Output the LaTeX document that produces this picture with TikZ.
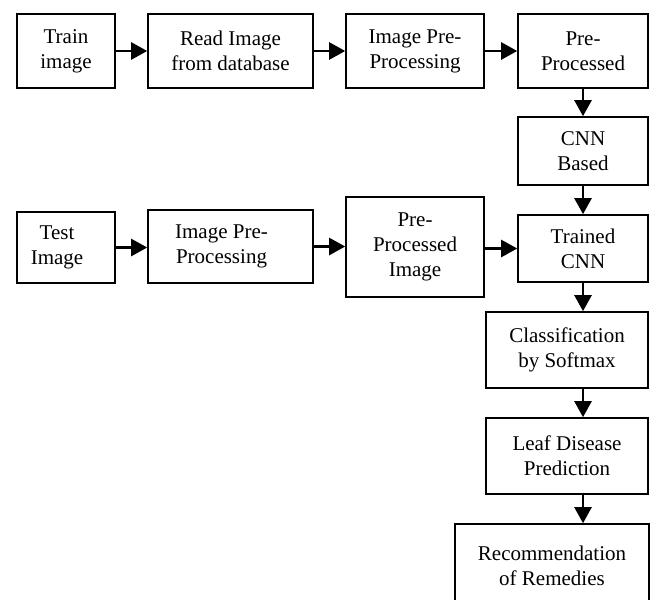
\documentclass[tikz,border=0pt]{standalone}
\usepackage{fontspec}
\setmainfont{Liberation Serif}
\usepackage{tikz}
\usetikzlibrary{positioning, shapes, arrows.meta}

\begin{document}
\begin{tikzpicture}[
		x=0.5pt, y=-0.5pt,
		font=\fontsize{10.5pt}{12.5pt}\selectfont,
		box/.style={rectangle, draw, line width=0.8pt, align=center, inner sep=0pt},
		arr/.style={line width=1.2pt, -{Triangle[length=8pt, width=8.5pt]}}
		]
		
		% Page frame (picture is cut off at the bottom)
		\clip (0,0) rectangle (656,599);
		
		% First row: training path
		\node[box, minimum width=49pt, minimum height=37pt] (train) at (66,51) {Train\\image};
		\node[box, minimum width=82.5pt, minimum height=37pt] (read) at (230.5,51) {Read Image\\from database};
		\node[box, minimum width=69pt, minimum height=37pt] (prepA) at (415,51) {Image Pre-\\Processing};
		\node[box, minimum width=65pt, minimum height=37pt] (preproc) at (583,51) {Pre-\\Processed};
		\node[box, minimum width=65pt, minimum height=34pt] (cnn) at (583,151) {CNN\\Based};
		
		% Second row: testing path
		\node[box, minimum width=49pt, minimum height=35.5pt,
			label={[align=center, xshift=-4.5pt]center:Test\\Image}] (test) at (66,247.5) {};
		\node[box, minimum width=82.5pt, minimum height=36.5pt,
			label={[align=center, xshift=-4.5pt]center:Image Pre-\\Processing}] (prepB) at (230.5,246.5) {};
		\node[box, minimum width=69pt, minimum height=50pt] (ppimg) at (415,247) {Pre-\\Processed\\Image};
		\node[box, minimum width=65pt, minimum height=33.5pt] (trained) at (583,248.5) {Trained\\CNN};
		
		% Output column
		\node[box, minimum width=81pt, minimum height=38pt] (classif) at (567,350) {Classification\\by Softmax};
		\node[box, minimum width=81pt, minimum height=38pt] (leaf) at (567,456) {Leaf Disease\\Prediction};
		\node[box, minimum width=97pt, minimum height=42pt] (remedy) at (552,566) {Recommendation\\of Remedies};
		
		% Arrows
		\draw[arr] (train) -- (read);
		\draw[arr] (read) -- (prepA);
		\draw[arr] (prepA) -- (preproc);
		\draw[arr] (preproc) -- (cnn);
		\draw[arr] (cnn) -- (trained);
		\draw[arr] (test.east) -- (test.east -| prepB.west);
		\draw[arr] (prepB.east) -- (prepB.east -| ppimg.west);
		\draw[arr] (ppimg.east |- trained.west) -- (trained.west);
		\draw[arr] (trained.south) -- (trained.south |- classif.north);
		\draw[arr] (classif.south -| trained.south) -- (leaf.north -| trained.south);
		\draw[arr] (leaf.south -| trained.south) -- (remedy.north -| trained.south);
		
	\end{tikzpicture}
\end{document}
